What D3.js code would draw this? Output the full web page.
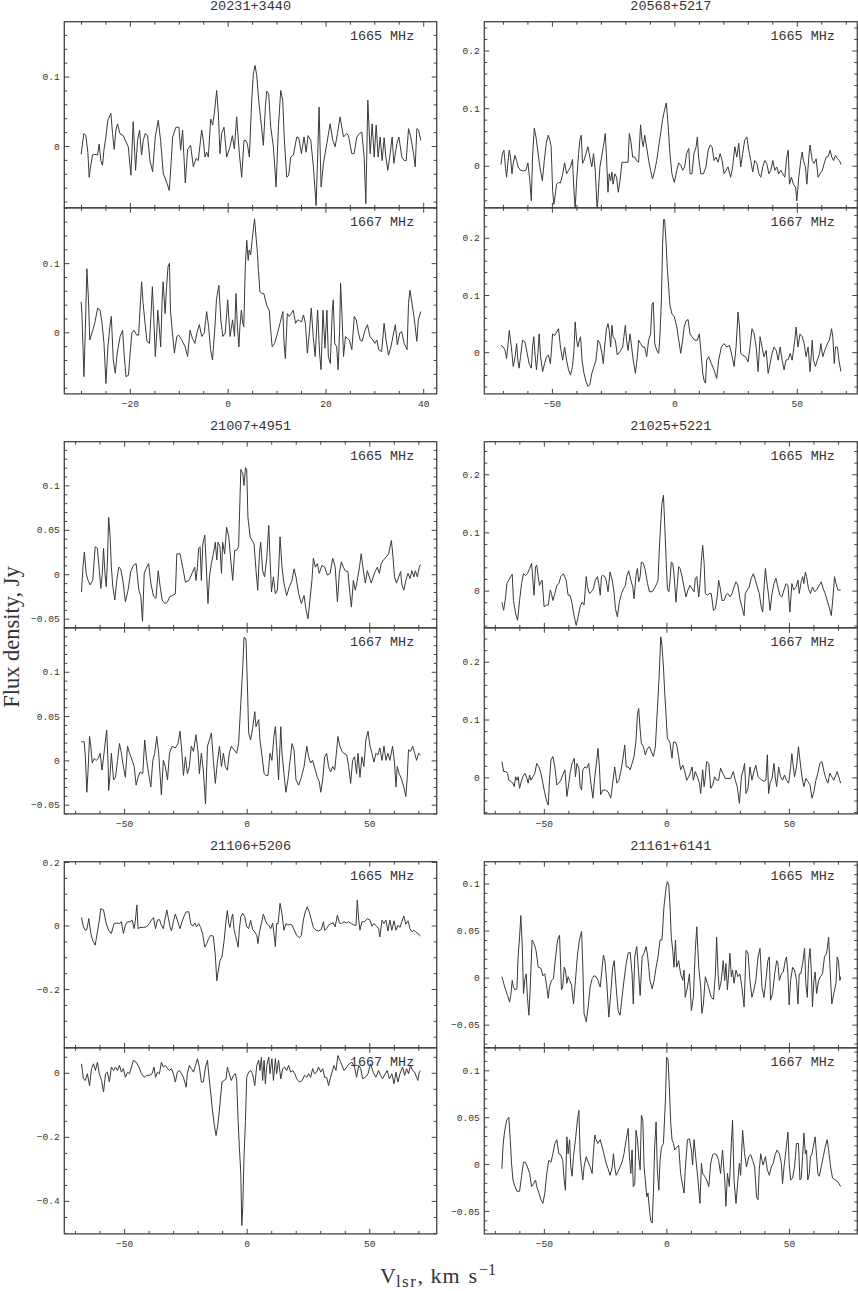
<!DOCTYPE html>
<meta charset="utf-8">
<script src="https://d3js.org/d3.v7.min.js"></script>
<style>
  body { margin: 0; background: #fff; }
  .lbl { font-family: "Liberation Mono", "DejaVu Sans Mono", monospace; fill: #333; }
  .big { font-family: "Liberation Serif", "DejaVu Serif", serif; fill: #333; }
</style>
<svg id="chart" width="858" height="1291"></svg>
<script>
// sources, one pair of spectra per source
const sources = ["20231+3440", "20568+5217", "21007+4951", "21025+5221", "21106+5206", "21161+6141"];
const lines = ["1665 MHz", "1667 MHz"];

// spectra: [Vlsr km/s, flux Jy]
const s20231_1665 = [[-29.97,-0.012],[-29.42,0.018],[-29.01,0.015],[-28.6,-0.009],[-28.33,-0.045],[-28.05,-0.03],[-27.65,-0.013],[-27.17,-0.012],[-26.62,-0.013],[-26.28,0.003],[-25.94,-0.021],[-25.6,-0.028],[-25.32,-0.006],[-24.91,0.013],[-24.51,0.037],[-23.89,0.047],[-23.55,0.018],[-23.21,-0.005],[-22.87,0.023],[-22.53,0.032],[-22.05,0.018],[-21.37,0.015],[-20.34,-0.001],[-19.8,-0.042],[-19.32,0.035],[-18.84,-0.035],[-18.43,0.008],[-18.02,0.023],[-17.61,-0.013],[-17.27,0.008],[-16.86,0.018],[-16.38,0.015],[-15.9,-0.021],[-15.36,-0.037],[-14.81,0.013],[-14.2,0.037],[-13.72,0.008],[-13.17,-0.04],[-12.49,-0.052],[-11.95,-0.064],[-11.54,-0.021],[-11.26,0.013],[-10.58,0.027],[-9.97,0.027],[-9.62,-0.006],[-9.22,0.023],[-8.67,-0.053],[-8.19,-0.005],[-7.58,0.001],[-7.03,-0.03],[-6.48,-0.018],[-6.01,-0.021],[-5.32,0.023],[-4.98,0.008],[-4.64,-0.016],[-4.3,-0.009],[-3.96,-0.016],[-3.48,0.039],[-3.07,0.03],[-2.73,0.047],[-2.25,0.08],[-1.91,0.047],[-1.57,-0.011],[-1.23,0.018],[-0.75,0.027],[-0.2,-0.016],[0.48,-0.001],[0.96,0.015],[1.37,-0.004],[1.84,0.042],[2.39,-0.011],[2.87,-0.045],[3.34,0.008],[3.69,0.008],[4.03,0.003],[4.44,-0.016],[4.91,0.066],[5.26,0.104],[5.6,0.116],[5.94,0.102],[6.35,0.066],[6.76,0.039],[7.3,0.001],[7.71,0.056],[7.99,0.079],[8.4,0.075],[8.81,0.027],[9.35,-0.001],[9.9,-0.059],[10.38,0.027],[10.85,0.08],[11.26,0.066],[11.6,0.008],[12.08,-0.045],[12.49,-0.042],[12.9,-0.016],[13.45,-0.013],[14.13,0.013],[14.54,0.012],[15.09,-0.011],[15.63,0.013],[16.04,-0.009],[16.45,0.015],[17.0,0.008],[17.54,-0.03],[18.09,-0.086],[18.36,-0.025],[18.7,0.056],[19.11,-0.059],[19.59,-0.025],[20.27,0.003],[20.96,0.032],[21.5,0.008],[21.98,-0.001],[22.46,0.018],[23.0,0.042],[23.69,0.013],[24.37,0.018],[24.71,0.015],[25.39,-0.011],[25.87,-0.011],[26.42,0.013],[26.96,0.018],[27.44,0.02],[27.92,-0.016],[28.26,-0.083],[28.67,0.066],[29.15,-0.011],[29.56,0.032],[29.97,-0.016],[30.38,0.03],[30.78,-0.016],[31.19,0.013],[31.6,-0.021],[32.01,0.012],[32.35,-0.016],[32.76,-0.035],[33.24,-0.011],[33.65,0.013],[33.99,-0.025],[34.61,0.003],[35.02,0.013],[35.63,-0.016],[36.11,-0.021],[36.52,-0.021],[37.0,0.025],[37.47,0.013],[38.02,-0.011],[38.36,-0.03],[38.7,0.025],[39.04,0.023],[39.52,0.008]];

const s20231_1667 = [[-29.97,0.044],[-29.8,0.023],[-29.6,-0.021],[-29.4,-0.064],[-29.2,-0.016],[-29.0,0.037],[-28.8,0.092],[-28.5,0.051],[-28.2,-0.011],[-27.6,0.003],[-27.2,0.013],[-26.6,0.035],[-26.1,0.032],[-25.7,0.013],[-25.3,-0.016],[-24.9,-0.074],[-24.5,-0.021],[-24.1,0.008],[-23.8,0.023],[-23.4,-0.04],[-23.0,-0.059],[-22.6,-0.03],[-22.0,-0.006],[-21.5,0.003],[-21.2,-0.03],[-20.8,-0.064],[-20.3,-0.062],[-20.0,-0.035],[-19.6,-0.001],[-19.2,0.003],[-18.6,-0.004],[-18.2,-0.004],[-17.9,0.037],[-17.6,0.073],[-17.3,0.042],[-16.9,0.013],[-16.5,-0.013],[-16.0,-0.016],[-15.7,0.023],[-15.4,0.066],[-15.1,0.018],[-14.8,-0.035],[-14.5,-0.001],[-14.3,0.032],[-14.0,0.008],[-13.7,-0.021],[-13.4,0.047],[-13.2,0.073],[-12.8,0.027],[-12.5,0.066],[-12.2,0.095],[-11.9,0.1],[-11.7,0.032],[-11.3,-0.001],[-10.9,-0.03],[-10.4,-0.006],[-10.0,-0.004],[-9.4,-0.011],[-8.7,-0.021],[-8.2,-0.035],[-7.7,0.003],[-7.2,-0.009],[-6.7,-0.016],[-6.3,-0.001],[-5.8,0.011],[-5.3,-0.006],[-4.8,-0.001],[-4.3,0.03],[-3.9,0.008],[-3.5,-0.025],[-3.1,-0.04],[-2.6,0.008],[-2.3,0.047],[-1.8,0.068],[-1.4,0.018],[-1.0,-0.006],[-0.5,-0.001],[-0.2,0.027],[0.0,0.047],[0.5,-0.006],[1.0,0.018],[1.4,-0.006],[1.7,0.056],[2.0,0.008],[2.3,-0.021],[2.5,0.008],[2.8,0.032],[3.1,0.013],[3.3,0.008],[3.6,0.095],[3.9,0.133],[4.2,0.104],[4.4,0.119],[4.7,0.112],[5.0,0.133],[5.3,0.152],[5.5,0.164],[5.8,0.138],[6.1,0.114],[6.3,0.088],[6.6,0.059],[7.0,0.056],[7.4,0.056],[7.7,0.047],[8.1,0.037],[8.5,0.032],[8.8,0.003],[9.1,-0.021],[9.6,-0.016],[10.2,-0.001],[10.7,0.013],[11.3,0.03],[11.5,-0.011],[11.8,-0.038],[12.2,0.027],[12.6,0.023],[13.0,0.027],[13.4,0.032],[13.9,0.013],[14.3,0.018],[14.7,0.017],[15.1,0.015],[15.5,0.025],[15.9,0.013],[16.3,-0.03],[16.7,-0.001],[17.1,0.035],[17.5,-0.006],[17.9,-0.035],[18.4,0.032],[18.8,-0.03],[19.1,-0.054],[19.5,0.032],[19.9,-0.023],[20.3,0.032],[20.6,-0.035],[21.0,-0.045],[21.4,0.032],[21.6,0.047],[21.9,-0.016],[22.3,-0.021],[22.6,-0.054],[22.9,0.003],[23.1,0.071],[23.4,0.023],[23.7,-0.035],[24.1,-0.006],[24.5,-0.009],[24.9,-0.011],[25.4,-0.025],[25.9,0.023],[26.3,0.018],[26.7,0.001],[27.1,-0.011],[27.5,-0.013],[28.1,0.003],[28.6,0.011],[29.1,-0.006],[29.7,-0.011],[30.1,-0.016],[30.5,-0.011],[30.9,-0.025],[31.5,-0.028],[32.0,0.013],[32.4,-0.011],[32.9,-0.033],[33.4,-0.021],[33.8,-0.006],[34.3,0.011],[34.7,-0.018],[35.2,-0.001],[35.6,0.001],[36.1,-0.016],[36.7,-0.025],[37.0,0.042],[37.3,0.061],[37.7,0.042],[38.2,0.018],[38.7,-0.013],[39.0,0.018],[39.5,0.03]];

const s20568_1665 = [[-70.8,0.002],[-70.2,0.021],[-69.6,0.027],[-68.9,-0.005],[-68.5,-0.02],[-68.0,0.004],[-67.4,0.027],[-66.9,0.015],[-66.3,-0.014],[-65.8,0.004],[-65.1,0.018],[-64.4,0.009],[-63.8,-0.002],[-62.8,-0.008],[-61.7,-0.009],[-60.6,-0.008],[-59.8,0.005],[-59.0,-0.026],[-58.4,-0.061],[-57.9,0.015],[-57.2,0.065],[-56.5,0.05],[-56.0,0.033],[-54.9,-0.002],[-53.9,-0.026],[-53.1,0.009],[-52.3,0.039],[-51.5,0.053],[-50.8,0.044],[-50.3,0.033],[-49.7,-0.043],[-49.2,-0.067],[-48.6,-0.049],[-48.1,-0.032],[-47.3,-0.029],[-46.5,-0.03],[-45.6,-0.014],[-44.8,0.005],[-44.0,-0.014],[-43.2,-0.008],[-42.4,-0.002],[-41.6,0.011],[-41.0,-0.043],[-40.5,-0.075],[-39.9,-0.026],[-39.1,0.021],[-38.6,0.044],[-38.0,0.053],[-37.5,0.004],[-36.9,0.009],[-36.1,0.021],[-35.3,0.033],[-34.5,0.015],[-33.7,-0.002],[-33.0,0.021],[-32.3,-0.008],[-31.5,-0.078],[-30.9,-0.037],[-30.4,-0.002],[-29.7,0.015],[-29.0,0.033],[-28.2,0.056],[-27.7,0.015],[-27.1,-0.046],[-26.6,-0.014],[-26.0,-0.026],[-25.5,-0.011],[-25.0,-0.032],[-24.3,-0.014],[-23.6,-0.02],[-22.9,-0.046],[-22.2,-0.026],[-21.4,0.006],[-20.2,0.006],[-18.9,0.006],[-18.4,0.056],[-17.8,0.044],[-17.0,0.015],[-16.2,0.015],[-15.4,0.009],[-14.6,0.006],[-13.8,0.071],[-13.2,0.044],[-12.7,0.033],[-12.1,0.053],[-11.6,0.039],[-11.0,0.024],[-10.5,0.009],[-9.7,-0.008],[-8.9,-0.023],[-8.0,-0.008],[-7.2,0.009],[-6.4,0.033],[-5.6,0.056],[-4.8,0.08],[-4.0,0.097],[-3.3,0.109],[-2.6,0.074],[-1.8,0.021],[-1.0,-0.014],[0.0,-0.029],[1.0,-0.008],[1.8,0.005],[2.6,0.001],[3.4,-0.008],[4.2,-0.002],[5.0,0.021],[5.9,0.03],[6.4,-0.014],[7.2,-0.014],[8.0,0.021],[8.9,0.033],[9.4,0.05],[9.9,0.015],[10.8,-0.014],[11.9,-0.014],[12.9,-0.002],[13.8,0.027],[14.6,0.036],[15.4,0.033],[16.2,0.009],[17.0,0.015],[17.8,0.006],[18.7,0.021],[19.5,0.009],[20.3,-0.014],[21.1,-0.008],[21.9,-0.002],[23.0,-0.02],[23.8,-0.002],[24.7,0.033],[25.5,0.015],[26.3,0.039],[27.1,-0.002],[27.9,0.021],[28.7,0.044],[29.6,0.05],[30.4,0.027],[31.2,0.009],[32.0,-0.011],[32.8,0.009],[33.7,0.004],[34.5,-0.014],[35.3,-0.02],[36.1,-0.002],[36.9,0.009],[37.7,0.004],[38.6,-0.014],[39.4,-0.008],[40.2,0.009],[41.0,-0.008],[41.8,-0.002],[42.6,-0.014],[43.5,-0.008],[44.3,-0.014],[45.1,-0.02],[45.9,0.015],[46.5,0.027],[47.0,-0.032],[47.8,-0.02],[48.6,-0.032],[49.5,-0.037],[50.0,-0.061],[50.8,-0.02],[51.6,0.009],[52.2,0.024],[52.7,0.009],[53.5,-0.002],[54.1,-0.032],[54.9,0.015],[55.4,0.036],[56.3,0.009],[57.1,0.004],[57.9,0.012],[58.7,-0.02],[59.5,-0.014],[60.4,-0.008],[61.2,0.004],[62.0,0.015],[62.8,0.016],[63.6,0.027],[64.3,0.015],[65.0,0.009],[65.8,0.018],[66.6,0.012],[67.4,0.009],[68.1,0.002]];

const s20568_1667 = [[-70.8,0.012],[-69.9,0.009],[-69.1,0.003],[-68.5,-0.011],[-68.0,0.009],[-67.4,0.038],[-66.9,0.021],[-66.3,-0.002],[-65.8,-0.025],[-65.0,-0.008],[-64.4,0.015],[-63.9,-0.014],[-63.4,-0.028],[-62.8,-0.008],[-62.0,0.021],[-61.0,0.018],[-60.1,-0.002],[-59.3,-0.02],[-58.4,-0.028],[-57.9,0.009],[-57.4,0.027],[-56.8,-0.008],[-56.3,-0.031],[-55.7,-0.002],[-55.2,0.032],[-54.6,-0.008],[-53.8,-0.034],[-53.0,-0.02],[-52.2,-0.008],[-51.4,-0.005],[-50.6,-0.02],[-49.7,0.032],[-48.9,0.029],[-48.1,0.035],[-47.3,0.041],[-46.5,0.009],[-45.6,-0.014],[-44.8,0.009],[-44.0,-0.014],[-43.2,-0.031],[-42.4,-0.04],[-41.6,-0.025],[-41.0,0.003],[-40.5,0.053],[-39.9,0.021],[-39.4,0.009],[-38.8,0.021],[-38.3,0.027],[-37.7,-0.014],[-36.9,-0.037],[-36.1,-0.051],[-35.3,-0.06],[-34.5,-0.057],[-33.7,-0.037],[-32.8,-0.025],[-32.0,-0.014],[-31.2,0.021],[-30.4,0.015],[-29.6,-0.002],[-29.0,-0.02],[-28.5,0.009],[-27.7,0.041],[-27.1,0.05],[-26.6,0.038],[-26.0,0.009],[-25.5,0.047],[-25.0,0.027],[-24.1,0.021],[-23.3,-0.005],[-22.2,0.001],[-21.1,0.009],[-20.6,0.027],[-20.0,0.047],[-19.5,0.021],[-18.9,0.003],[-18.1,0.032],[-17.6,0.015],[-16.8,-0.014],[-15.9,-0.037],[-15.1,-0.008],[-14.6,0.021],[-13.8,0.015],[-12.9,0.009],[-12.1,0.009],[-11.3,-0.008],[-10.5,0.021],[-9.7,0.032],[-9.1,0.084],[-8.6,0.087],[-8.0,0.015],[-7.2,0.003],[-6.4,-0.002],[-5.9,0.027],[-5.3,0.09],[-4.8,0.188],[-4.4,0.232],[-4.0,0.232],[-3.4,0.194],[-2.9,0.148],[-2.3,0.113],[-1.8,0.082],[-1.0,0.067],[0.0,0.062],[1.0,0.044],[1.8,0.021],[2.6,-0.002],[3.4,0.021],[4.0,0.044],[4.8,0.055],[5.6,0.057],[6.4,0.032],[7.2,0.027],[8.3,0.021],[9.4,0.021],[10.2,0.032],[10.8,0.003],[11.6,-0.037],[12.1,-0.049],[12.7,-0.054],[13.2,-0.014],[14.0,-0.008],[15.1,-0.02],[16.2,-0.031],[17.3,-0.046],[18.1,-0.014],[19.2,0.009],[20.3,0.015],[21.4,0.009],[22.5,0.012],[23.6,-0.008],[24.4,-0.025],[25.2,0.009],[26.0,0.07],[26.6,0.044],[27.1,-0.002],[27.9,-0.005],[29.0,-0.008],[30.1,-0.017],[30.9,0.009],[31.7,0.041],[32.6,0.032],[33.4,0.009],[34.2,-0.034],[35.0,0.027],[35.8,0.009],[36.6,-0.008],[37.5,0.003],[38.3,-0.037],[39.1,-0.02],[39.9,-0.002],[40.7,0.009],[41.6,0.003],[42.4,-0.014],[43.2,0.009],[44.0,-0.014],[44.8,-0.031],[45.6,-0.014],[46.5,-0.013],[47.3,-0.002],[48.1,-0.014],[49.2,0.021],[49.7,0.044],[50.5,0.009],[51.3,0.032],[52.2,0.027],[53.0,0.015],[53.8,-0.008],[54.6,0.009],[55.4,-0.034],[56.3,0.021],[56.8,-0.014],[57.6,-0.025],[58.4,-0.014],[59.3,-0.002],[59.8,0.015],[60.6,-0.008],[61.4,0.003],[62.5,0.015],[63.3,0.021],[64.2,0.041],[64.7,0.027],[65.3,-0.02],[65.8,0.009],[66.6,0.009],[67.2,-0.014],[68.0,-0.034]];

const s21007_1665 = [[-67.4,-0.02],[-66.8,0.008],[-66.2,0.025],[-65.5,0.001],[-64.7,-0.007],[-63.9,-0.012],[-62.8,-0.007],[-61.8,0.031],[-60.9,0.029],[-60.1,0.004],[-59.5,-0.016],[-58.9,0.001],[-58.4,0.029],[-57.8,0.001],[-57.3,-0.014],[-56.8,0.016],[-56.3,0.064],[-55.7,0.042],[-55.2,0.008],[-54.6,-0.014],[-53.8,-0.029],[-53.0,-0.007],[-52.2,0.008],[-51.4,0.006],[-50.5,-0.007],[-49.5,-0.031],[-48.4,-0.018],[-47.3,0.003],[-46.2,0.01],[-45.1,0.012],[-44.0,-0.018],[-43.2,-0.025],[-42.5,-0.053],[-41.8,0.001],[-40.8,0.008],[-40.0,0.012],[-39.1,-0.01],[-38.0,-0.025],[-37.0,-0.027],[-36.1,0.004],[-35.3,-0.014],[-34.5,-0.029],[-33.4,-0.033],[-32.3,-0.031],[-31.3,-0.025],[-30.2,-0.024],[-29.1,-0.022],[-28.5,0.023],[-27.2,0.023],[-26.1,0.008],[-25.0,-0.009],[-23.6,-0.007],[-22.3,0.001],[-21.2,0.008],[-20.7,-0.007],[-20.1,0.008],[-19.6,0.029],[-19.0,0.031],[-18.5,-0.007],[-17.9,0.034],[-17.1,0.044],[-16.6,0.016],[-15.8,-0.033],[-15.2,-0.003],[-14.4,0.012],[-13.6,0.023],[-12.8,0.036],[-12.2,0.016],[-11.7,0.036],[-10.9,0.031],[-10.3,0.001],[-9.8,0.036],[-9.0,0.023],[-8.2,0.053],[-7.3,0.042],[-6.5,0.016],[-5.7,-0.007],[-4.9,0.027],[-4.1,0.027],[-3.3,0.031],[-2.4,0.118],[-1.6,0.113],[-1.1,0.1],[-0.5,0.12],[0.0,0.118],[0.5,0.064],[1.4,0.042],[2.2,0.038],[3.0,0.034],[3.8,0.004],[4.5,-0.018],[5.2,0.023],[5.7,0.036],[6.5,0.004],[7.3,-0.003],[8.2,0.019],[9.0,0.055],[9.5,0.019],[10.1,-0.02],[10.9,-0.003],[11.7,-0.022],[12.5,-0.018],[13.0,0.004],[13.6,0.042],[14.4,0.008],[15.2,-0.01],[16.3,-0.024],[17.4,-0.014],[18.5,-0.007],[19.3,0.006],[20.1,-0.003],[21.2,-0.022],[22.3,-0.033],[23.4,-0.024],[24.2,-0.04],[25.0,-0.05],[25.8,-0.029],[26.6,-0.007],[27.2,0.018],[28.0,0.008],[28.8,0.012],[29.6,0.001],[30.7,0.01],[31.8,0.008],[32.9,-0.001],[34.0,0.001],[35.1,0.018],[36.1,0.008],[37.0,-0.031],[37.8,0.001],[38.6,0.014],[39.4,0.008],[40.2,0.004],[41.3,0.003],[42.1,-0.022],[42.7,-0.037],[43.5,-0.007],[44.3,-0.018],[45.1,-0.007],[46.0,0.008],[46.7,0.023],[47.6,0.004],[48.4,-0.01],[49.2,0.004],[50.0,-0.003],[50.8,-0.01],[51.6,-0.003],[52.4,0.003],[53.3,0.008],[54.1,0.001],[54.9,0.012],[55.7,0.016],[56.8,0.019],[57.9,0.023],[59.0,0.038],[59.5,0.025],[60.3,-0.003],[61.1,-0.01],[62.0,-0.003],[62.8,0.003],[63.3,-0.012],[64.1,-0.018],[64.9,-0.007],[65.8,0.001],[66.6,-0.005],[67.4,0.004],[68.2,-0.003],[68.8,0.004],[69.6,-0.003],[70.4,0.008],[70.9,0.011]];

const s21007_1667 = [[-67.4,0.021],[-66.3,0.021],[-65.8,0.004],[-65.2,-0.036],[-64.7,-0.011],[-64.1,0.027],[-63.6,0.016],[-63.0,-0.003],[-62.2,0.002],[-61.4,0.0],[-60.6,0.002],[-59.8,0.008],[-59.0,-0.011],[-58.2,0.008],[-57.6,0.023],[-57.1,0.034],[-56.5,-0.007],[-56.3,-0.034],[-55.7,-0.015],[-55.2,0.008],[-54.3,-0.022],[-53.5,-0.019],[-52.7,0.0],[-51.9,0.019],[-51.1,0.008],[-50.3,-0.007],[-49.5,-0.019],[-48.6,0.016],[-47.8,0.008],[-46.7,0.0],[-45.9,-0.007],[-45.1,-0.028],[-44.3,-0.019],[-43.5,-0.013],[-42.4,-0.015],[-41.6,0.023],[-40.8,0.0],[-40.0,-0.015],[-39.1,-0.03],[-38.3,0.0],[-37.5,0.008],[-36.7,0.027],[-35.9,0.008],[-34.8,-0.039],[-34.0,0.0],[-33.2,-0.007],[-32.3,-0.022],[-31.5,0.008],[-30.4,0.016],[-29.1,0.014],[-28.0,0.019],[-27.2,0.033],[-26.4,0.008],[-25.8,-0.017],[-25.0,0.004],[-24.2,-0.015],[-23.4,-0.007],[-22.6,0.016],[-21.7,0.01],[-20.7,0.029],[-19.8,0.008],[-19.3,-0.015],[-18.5,0.008],[-17.7,-0.011],[-16.8,-0.049],[-16.0,0.016],[-15.2,0.023],[-14.4,0.031],[-13.6,0.0],[-12.8,-0.026],[-12.0,-0.003],[-11.1,0.016],[-10.3,-0.007],[-9.5,0.008],[-8.7,-0.007],[-7.9,-0.011],[-7.1,0.008],[-6.3,0.016],[-5.2,0.012],[-4.1,0.008],[-3.3,0.019],[-2.4,0.065],[-1.6,0.106],[-1.1,0.139],[-0.3,0.137],[0.3,0.084],[0.8,0.031],[1.6,0.023],[2.4,0.036],[3.3,0.055],[3.8,0.038],[4.3,0.042],[4.9,0.046],[5.4,0.023],[6.3,0.004],[7.1,-0.015],[7.9,-0.017],[8.7,-0.017],[9.5,0.008],[10.3,0.0],[11.1,0.027],[11.7,0.038],[12.2,0.016],[13.0,-0.022],[13.9,0.038],[14.4,0.008],[15.2,-0.015],[16.0,-0.036],[16.8,-0.022],[17.7,0.0],[18.5,0.019],[19.3,0.012],[20.1,-0.022],[21.2,-0.028],[22.3,-0.019],[23.4,-0.007],[24.5,0.016],[25.3,0.004],[26.1,-0.003],[26.9,0.0],[28.0,-0.011],[28.8,-0.019],[29.6,-0.024],[30.2,-0.036],[31.0,-0.022],[31.8,0.004],[32.6,0.008],[33.4,-0.007],[34.2,-0.013],[35.1,-0.007],[35.9,-0.011],[36.7,0.012],[37.2,0.027],[38.0,0.016],[38.9,0.01],[39.7,0.008],[40.8,0.006],[41.6,-0.007],[42.4,-0.026],[43.2,0.0],[44.0,0.004],[44.8,-0.015],[45.4,0.008],[46.2,-0.019],[47.0,0.004],[47.8,-0.007],[48.6,0.023],[49.5,0.033],[50.3,0.016],[51.1,0.008],[51.9,-0.002],[52.7,0.008],[53.5,0.006],[54.3,0.014],[55.2,0.0],[56.0,0.016],[56.8,0.0],[57.6,0.008],[58.4,0.0],[59.5,0.016],[60.3,-0.003],[60.9,-0.03],[61.4,-0.007],[62.2,-0.015],[63.0,-0.02],[64.1,-0.03],[64.9,-0.041],[65.5,-0.019],[66.0,0.012],[66.8,0.01],[67.7,0.016],[68.5,0.008],[69.3,0.0],[70.1,0.008],[70.9,0.006]];

const s21025_1665 = [[-67.1,-0.02],[-66.4,-0.034],[-65.6,-0.011],[-65.1,0.012],[-64.3,0.018],[-63.5,0.024],[-62.9,0.028],[-62.4,-0.017],[-61.5,-0.04],[-60.7,-0.051],[-59.9,-0.017],[-59.1,0.012],[-58.3,0.029],[-57.5,0.026],[-56.7,0.029],[-55.8,0.038],[-55.0,0.047],[-54.5,0.018],[-54.0,-0.008],[-53.4,0.041],[-52.9,0.044],[-52.3,0.024],[-51.8,0.009],[-51.2,0.015],[-50.7,0.018],[-49.9,-0.028],[-49.0,-0.025],[-48.2,-0.025],[-47.4,0.001],[-46.9,-0.005],[-46.3,-0.017],[-45.5,-0.005],[-44.7,0.009],[-43.9,0.012],[-43.1,0.024],[-42.0,0.029],[-40.9,0.018],[-40.1,-0.008],[-39.3,-0.008],[-38.5,-0.022],[-37.6,-0.045],[-36.8,-0.06],[-36.0,-0.045],[-35.2,-0.028],[-34.4,-0.02],[-33.6,-0.025],[-32.7,0.024],[-32.2,0.006],[-31.4,-0.005],[-30.6,-0.002],[-29.8,0.003],[-29.0,0.018],[-28.1,0.024],[-27.6,0.012],[-27.0,-0.008],[-26.5,0.024],[-26.0,0.026],[-25.1,0.024],[-24.6,0.018],[-23.8,-0.002],[-23.0,0.032],[-22.1,0.018],[-21.3,-0.005],[-20.8,-0.031],[-20.0,-0.045],[-19.2,-0.02],[-18.3,-0.005],[-17.5,0.003],[-16.7,0.009],[-16.2,0.024],[-15.4,0.034],[-14.5,0.018],[-13.7,0.006],[-13.2,-0.014],[-12.4,0.026],[-11.8,0.038],[-11.3,0.015],[-10.7,0.024],[-10.2,0.049],[-9.4,0.047],[-8.6,0.035],[-7.7,0.012],[-6.9,-0.002],[-5.8,-0.002],[-5.0,0.003],[-3.9,0.012],[-3.4,0.018],[-2.9,0.07],[-2.3,0.116],[-1.8,0.15],[-1.2,0.164],[-0.7,0.116],[-0.1,0.052],[0.4,0.003],[1.0,-0.002],[1.5,0.018],[2.0,0.049],[2.6,0.047],[3.1,0.029],[3.9,-0.02],[4.5,0.012],[5.0,0.041],[5.6,0.038],[6.4,0.024],[7.2,0.006],[8.0,-0.011],[8.8,0.001],[9.6,0.009],[10.5,0.003],[11.3,-0.002],[11.8,0.021],[12.4,0.024],[13.2,-0.011],[13.7,0.012],[14.3,0.052],[14.8,0.078],[15.4,0.047],[15.9,-0.005],[16.7,-0.008],[17.5,-0.005],[18.3,-0.005],[19.2,-0.034],[20.0,-0.031],[20.8,-0.008],[21.3,0.018],[21.9,0.006],[22.7,-0.017],[23.5,-0.017],[24.3,-0.008],[25.1,-0.005],[26.0,-0.011],[26.8,-0.005],[27.6,0.006],[28.4,0.015],[29.2,0.009],[30.0,-0.014],[30.8,-0.028],[31.7,-0.043],[32.2,-0.005],[33.0,0.001],[33.8,0.006],[34.6,0.021],[35.5,0.029],[36.3,0.018],[37.1,0.006],[37.9,-0.005],[38.7,-0.028],[39.3,-0.037],[39.8,0.001],[40.4,0.038],[40.9,0.018],[41.7,-0.008],[42.3,-0.034],[43.1,-0.005],[43.9,0.012],[44.7,0.021],[45.5,0.006],[46.3,-0.008],[47.1,-0.011],[48.0,0.001],[48.8,0.012],[49.6,0.009],[50.4,-0.037],[51.2,0.012],[52.0,0.001],[52.9,0.006],[53.7,0.018],[54.2,-0.005],[55.0,0.015],[55.6,0.024],[56.1,0.012],[56.7,0.032],[57.2,0.024],[58.0,0.003],[58.8,-0.005],[59.6,0.006],[60.5,-0.002],[61.3,0.001],[62.4,0.009],[63.2,0.015],[64.0,0.003],[64.8,-0.005],[65.6,-0.017],[66.4,-0.028],[67.3,-0.043],[68.1,-0.005],[68.6,0.024],[69.2,0.012],[70.0,0.001],[71.1,0.001]];

const s21025_1667 = [[-67.1,0.027],[-66.4,0.01],[-65.6,0.01],[-64.8,0.007],[-64.3,-0.005],[-63.5,-0.007],[-62.6,-0.01],[-62.1,-0.016],[-61.5,0.001],[-61.0,-0.005],[-60.5,0.001],[-59.9,-0.019],[-59.4,-0.01],[-58.6,0.001],[-57.7,0.007],[-56.9,-0.002],[-56.4,-0.01],[-55.8,0.004],[-55.3,-0.005],[-54.5,0.001],[-53.7,0.007],[-52.9,0.024],[-52.0,0.018],[-51.2,0.007],[-50.4,-0.01],[-49.6,-0.028],[-48.8,-0.042],[-48.2,-0.048],[-47.7,-0.005],[-47.1,0.03],[-46.3,0.036],[-45.5,0.018],[-44.7,-0.013],[-43.9,-0.01],[-43.1,-0.005],[-42.3,0.004],[-41.4,0.013],[-40.6,-0.033],[-39.8,-0.01],[-39.3,0.007],[-38.5,0.024],[-37.6,0.033],[-37.1,0.001],[-36.5,0.024],[-35.7,0.016],[-35.2,-0.016],[-34.6,-0.022],[-34.1,0.013],[-33.3,0.018],[-32.5,0.016],[-31.7,0.024],[-30.8,-0.01],[-30.0,-0.036],[-29.2,0.001],[-28.4,0.03],[-27.9,0.05],[-27.3,0.016],[-26.8,-0.03],[-26.0,-0.022],[-24.9,-0.022],[-23.8,-0.025],[-22.7,-0.036],[-21.9,-0.01],[-21.1,0.018],[-20.2,-0.01],[-19.4,-0.005],[-18.6,0.01],[-17.8,0.03],[-17.0,0.056],[-16.4,0.018],[-15.6,0.018],[-14.8,0.013],[-14.0,0.024],[-13.2,0.036],[-12.4,0.064],[-11.8,0.11],[-11.3,0.119],[-10.7,0.082],[-10.2,0.059],[-9.4,0.053],[-8.6,0.039],[-7.7,0.05],[-6.9,0.053],[-6.1,0.044],[-5.3,0.036],[-4.5,0.053],[-3.7,0.116],[-2.9,0.179],[-2.3,0.243],[-1.8,0.228],[-1.2,0.191],[-0.7,0.148],[-0.1,0.105],[0.4,0.067],[1.0,0.064],[1.5,0.059],[2.3,0.033],[2.9,0.061],[3.7,0.061],[4.2,0.056],[5.0,0.036],[5.8,0.013],[6.7,0.021],[7.5,0.01],[8.3,-0.005],[9.1,0.001],[9.9,0.01],[10.5,0.018],[11.0,-0.005],[11.8,0.01],[12.6,0.001],[13.5,-0.01],[14.0,-0.028],[14.8,0.013],[15.4,-0.016],[15.9,0.001],[16.4,0.027],[17.3,0.024],[18.1,-0.019],[18.9,-0.013],[19.7,0.001],[20.5,-0.005],[21.3,-0.005],[22.1,0.016],[23.0,0.007],[24.0,-0.002],[25.1,-0.002],[26.2,-0.002],[27.3,0.01],[28.1,-0.005],[28.9,-0.016],[29.8,-0.045],[30.6,0.001],[31.4,0.013],[31.9,0.024],[32.5,-0.028],[33.3,-0.019],[34.1,0.018],[34.9,-0.005],[35.7,0.01],[36.5,0.021],[37.4,0.001],[38.2,-0.002],[39.0,-0.005],[39.8,-0.007],[40.6,-0.005],[41.2,0.039],[41.7,-0.028],[42.3,-0.01],[43.1,-0.002],[43.9,0.024],[44.4,0.001],[45.0,-0.016],[45.8,0.018],[46.6,0.001],[47.4,-0.005],[48.2,0.004],[49.0,-0.005],[49.9,-0.01],[50.7,0.018],[51.2,0.041],[51.8,0.018],[52.3,0.001],[53.1,0.018],[53.9,0.053],[54.5,0.03],[55.3,0.001],[56.1,-0.016],[56.9,-0.002],[57.7,-0.007],[58.6,-0.013],[59.4,-0.036],[60.2,-0.025],[61.0,-0.005],[61.8,0.007],[62.6,0.024],[63.5,0.027],[64.3,0.01],[65.1,-0.002],[65.9,-0.01],[66.7,0.007],[67.5,0.001],[68.3,-0.005],[69.7,0.01],[71.1,-0.01]];

const s21106_1665 = [[-67.4,0.025],[-66.6,-0.004],[-65.9,-0.015],[-65.2,-0.013],[-64.4,0.022],[-63.6,-0.025],[-62.8,-0.047],[-61.8,-0.062],[-60.9,-0.02],[-60.1,0.017],[-59.5,0.053],[-58.4,0.049],[-57.3,0.006],[-56.3,-0.015],[-55.2,-0.025],[-54.1,0.006],[-53.0,0.008],[-51.9,0.006],[-51.1,0.012],[-50.3,-0.025],[-49.5,0.001],[-48.6,0.012],[-47.6,0.012],[-46.7,0.017],[-45.9,-0.01],[-45.4,0.017],[-44.8,0.065],[-44.3,-0.01],[-43.5,-0.006],[-42.1,-0.006],[-40.8,-0.004],[-39.7,0.006],[-38.9,0.017],[-38.0,0.025],[-37.2,-0.01],[-36.4,0.017],[-35.6,0.019],[-34.8,0.001],[-34.0,-0.01],[-33.4,0.017],[-32.6,0.049],[-31.8,0.017],[-31.3,-0.004],[-30.7,-0.017],[-29.9,0.012],[-29.1,0.036],[-28.3,0.017],[-27.2,-0.01],[-26.4,0.012],[-25.5,0.03],[-24.7,0.043],[-23.6,0.043],[-22.8,0.006],[-22.0,-0.002],[-21.2,0.008],[-20.4,-0.004],[-19.6,0.006],[-18.8,-0.006],[-18.0,-0.025],[-17.1,-0.068],[-16.3,-0.057],[-15.5,-0.041],[-14.7,-0.031],[-13.6,-0.034],[-12.8,-0.094],[-12.2,-0.174],[-11.7,-0.147],[-10.9,-0.11],[-10.1,-0.099],[-9.2,-0.047],[-8.4,0.017],[-7.9,0.047],[-7.3,0.006],[-6.8,-0.006],[-6.3,0.019],[-5.7,0.036],[-5.2,-0.01],[-4.6,-0.031],[-4.1,-0.047],[-3.5,-0.068],[-3.0,-0.013],[-2.4,0.028],[-1.6,0.038],[-0.8,0.028],[0.0,-0.004],[0.8,-0.01],[1.6,0.017],[2.4,-0.013],[3.3,-0.02],[4.1,-0.031],[4.6,-0.057],[5.2,-0.02],[6.0,0.006],[6.8,0.036],[7.6,0.017],[8.2,0.006],[9.0,0.001],[9.8,-0.01],[10.6,0.008],[11.1,-0.025],[11.7,-0.066],[12.2,0.006],[12.8,0.006],[13.6,0.07],[14.4,0.036],[15.2,-0.015],[16.0,0.006],[16.8,0.001],[17.7,0.004],[18.5,0.001],[19.3,-0.013],[20.4,-0.031],[21.5,-0.038],[22.3,-0.031],[23.1,0.017],[23.9,0.043],[24.7,0.059],[25.5,0.043],[26.4,0.017],[27.2,-0.006],[28.3,-0.015],[29.3,-0.017],[30.4,-0.013],[31.3,0.012],[31.8,-0.015],[32.6,-0.01],[33.4,0.001],[34.5,0.006],[35.3,0.008],[36.1,-0.004],[37.0,0.033],[37.8,0.008],[38.6,0.006],[39.7,0.012],[40.8,0.008],[41.6,0.012],[42.7,0.006],[43.8,0.001],[44.6,0.001],[45.1,0.08],[45.7,0.017],[46.2,-0.015],[47.0,0.012],[48.1,0.012],[49.2,0.022],[50.3,0.017],[51.1,-0.002],[51.9,0.006],[53.0,-0.002],[53.8,-0.01],[54.3,-0.036],[55.2,0.017],[56.0,0.006],[56.8,0.017],[57.6,-0.017],[58.4,0.017],[59.2,-0.015],[60.1,0.015],[60.9,-0.015],[61.7,0.001],[62.5,-0.006],[63.3,0.012],[64.1,0.03],[64.9,0.004],[65.8,0.015],[66.6,-0.01],[67.4,-0.02],[68.2,-0.015],[69.0,-0.02],[69.8,-0.025],[70.9,-0.033]];

const s21106_1667 = [[-67.4,0.028],[-66.6,-0.019],[-65.8,-0.024],[-65.0,-0.003],[-64.1,-0.04],[-63.3,0.013],[-62.5,0.028],[-61.7,0.007],[-60.9,0.033],[-60.1,-0.003],[-59.2,-0.024],[-58.4,-0.06],[-57.6,-0.003],[-56.8,0.002],[-56.0,-0.029],[-55.2,0.018],[-54.3,0.007],[-53.5,0.018],[-52.7,0.007],[-51.9,0.023],[-51.1,0.002],[-50.3,0.013],[-49.5,-0.014],[-48.6,0.002],[-47.8,-0.003],[-47.0,0.018],[-46.2,0.039],[-45.1,0.033],[-44.0,0.018],[-42.9,-0.003],[-41.8,-0.014],[-40.8,-0.008],[-39.7,-0.008],[-38.6,-0.003],[-37.8,0.018],[-37.2,-0.014],[-36.4,0.002],[-35.6,-0.003],[-34.8,0.033],[-34.0,0.018],[-33.2,0.023],[-32.3,0.013],[-31.5,0.007],[-30.7,0.013],[-29.9,-0.003],[-29.1,-0.029],[-28.3,0.002],[-27.4,0.007],[-26.6,-0.003],[-25.8,-0.014],[-24.7,-0.045],[-24.2,-0.003],[-23.4,0.023],[-22.6,0.013],[-21.7,0.002],[-20.9,0.023],[-20.1,0.044],[-19.3,0.018],[-18.5,-0.029],[-17.7,-0.029],[-16.8,0.018],[-16.0,0.039],[-15.5,-0.003],[-14.9,-0.045],[-14.1,-0.107],[-13.3,-0.159],[-12.5,-0.196],[-11.7,-0.159],[-10.9,-0.097],[-10.1,-0.029],[-9.2,-0.024],[-8.4,-0.019],[-7.9,0.018],[-7.1,-0.003],[-6.3,-0.024],[-5.4,-0.008],[-4.6,-0.003],[-4.1,-0.024],[-3.5,-0.149],[-3.0,-0.232],[-2.4,-0.316],[-2.0,-0.477],[-1.6,-0.42],[-1.1,-0.264],[-0.5,-0.149],[0.0,-0.014],[0.8,0.002],[1.6,0.007],[2.4,-0.003],[3.3,-0.04],[4.1,0.023],[4.9,0.039],[5.4,0.007],[6.0,0.049],[6.5,-0.024],[7.1,0.039],[7.6,-0.034],[8.2,0.023],[9.0,0.049],[9.5,-0.003],[10.3,0.044],[10.9,-0.024],[11.7,0.044],[12.2,-0.003],[13.0,0.039],[13.9,-0.019],[14.7,0.013],[15.5,0.018],[16.3,0.007],[17.1,0.023],[17.9,0.002],[18.8,0.007],[19.6,-0.003],[20.4,-0.019],[21.5,-0.029],[22.6,-0.024],[23.6,-0.008],[24.5,-0.014],[25.3,-0.003],[26.1,-0.014],[26.9,0.013],[27.7,-0.003],[28.5,0.002],[29.3,0.018],[30.2,0.002],[31.0,0.013],[31.8,-0.014],[32.6,-0.014],[33.4,-0.04],[34.2,-0.014],[34.8,0.002],[35.6,0.023],[36.4,0.007],[37.2,0.054],[38.0,0.039],[38.9,0.023],[39.7,0.007],[40.8,0.018],[41.8,0.028],[42.9,0.033],[44.0,0.018],[44.8,-0.014],[45.7,0.023],[46.5,0.013],[47.3,-0.019],[48.4,-0.014],[49.5,-0.003],[50.5,0.028],[51.6,0.002],[52.7,-0.014],[53.8,0.007],[54.6,-0.008],[55.4,-0.019],[56.5,-0.003],[57.3,0.007],[58.2,-0.019],[59.2,-0.003],[60.1,-0.034],[60.9,0.002],[61.7,-0.029],[62.5,-0.003],[63.6,0.018],[64.4,-0.008],[65.2,0.013],[66.0,-0.003],[66.8,0.023],[67.7,0.007],[68.5,0.002],[69.3,-0.014],[69.8,-0.024],[70.4,0.002],[70.9,0.007]];

const s21161_1665 = [[-67.1,0.001],[-66.4,-0.006],[-65.6,-0.013],[-64.8,-0.019],[-64.0,-0.026],[-63.5,-0.019],[-62.9,-0.003],[-62.4,-0.01],[-61.8,-0.013],[-61.0,-0.012],[-60.5,0.022],[-59.9,0.043],[-59.4,0.066],[-58.8,0.033],[-58.3,-0.017],[-57.7,-0.001],[-57.2,0.004],[-56.7,-0.021],[-56.1,-0.04],[-55.6,-0.013],[-54.8,0.04],[-54.0,0.036],[-53.2,0.029],[-52.3,0.011],[-51.2,0.01],[-50.4,0.002],[-49.6,0.004],[-48.8,-0.01],[-48.2,-0.022],[-47.7,-0.01],[-46.9,-0.003],[-46.1,-0.001],[-45.2,0.022],[-44.4,0.04],[-43.6,0.045],[-42.8,-0.013],[-42.3,-0.01],[-41.7,0.011],[-41.2,0.008],[-40.6,-0.006],[-40.1,0.001],[-39.5,-0.003],[-38.7,-0.008],[-37.9,-0.028],[-37.1,-0.003],[-36.3,0.024],[-35.5,0.04],[-34.6,0.049],[-34.1,0.011],[-33.6,-0.038],[-32.7,-0.047],[-31.9,-0.031],[-31.1,-0.01],[-30.3,-0.001],[-29.5,0.002],[-28.7,0.001],[-27.9,-0.003],[-27.0,-0.01],[-26.2,0.011],[-25.7,0.024],[-25.1,0.018],[-24.3,-0.006],[-23.5,-0.042],[-22.7,-0.017],[-21.9,0.011],[-21.3,0.018],[-20.5,-0.01],[-19.7,-0.035],[-18.9,-0.04],[-18.1,-0.021],[-17.3,-0.003],[-16.4,0.015],[-15.6,0.026],[-14.8,0.027],[-14.0,0.004],[-13.5,-0.028],[-12.9,0.022],[-12.1,0.033],[-11.3,0.004],[-10.7,-0.019],[-9.9,0.022],[-9.1,0.026],[-8.3,0.033],[-7.7,0.024],[-7.2,0.011],[-6.7,-0.003],[-5.8,-0.012],[-5.0,-0.003],[-4.2,0.011],[-3.4,0.022],[-2.6,0.04],[-1.8,0.04],[-1.0,0.075],[-0.1,0.096],[0.4,0.102],[1.0,0.098],[1.5,0.075],[2.0,0.043],[2.6,0.029],[3.1,0.011],[3.7,0.04],[4.2,0.011],[5.0,0.018],[5.8,0.004],[6.7,-0.003],[7.2,0.008],[7.7,-0.021],[8.6,-0.01],[9.4,0.004],[10.2,-0.035],[11.0,-0.021],[11.8,0.029],[12.4,0.054],[13.2,0.011],[14.0,-0.01],[14.5,-0.038],[15.1,-0.028],[15.9,0.001],[16.7,-0.006],[17.5,-0.013],[18.3,-0.021],[19.2,-0.023],[20.0,0.004],[20.5,0.043],[21.1,0.004],[21.6,-0.013],[22.4,-0.003],[23.2,0.018],[23.8,-0.003],[24.3,0.015],[24.9,-0.013],[25.4,0.004],[25.9,0.026],[26.5,0.001],[27.0,0.008],[27.6,-0.006],[28.4,0.008],[29.2,0.001],[30.0,0.004],[30.8,-0.01],[31.7,-0.031],[32.5,0.029],[33.3,0.026],[34.1,-0.003],[34.9,-0.021],[35.7,-0.013],[36.5,-0.003],[37.4,0.022],[38.2,0.031],[39.0,-0.01],[39.8,-0.021],[40.6,-0.003],[41.4,0.018],[42.0,0.022],[42.5,-0.024],[43.3,-0.017],[44.2,0.004],[45.0,0.018],[45.5,0.015],[46.1,-0.003],[46.9,0.004],[47.7,0.006],[48.5,0.018],[49.0,0.022],[49.6,0.004],[50.1,-0.029],[50.7,-0.003],[51.5,0.011],[52.3,0.008],[53.1,-0.003],[53.7,-0.028],[54.2,0.004],[54.8,0.004],[55.6,0.015],[56.4,0.031],[56.9,-0.006],[57.5,-0.021],[58.0,0.015],[58.6,0.031],[59.1,0.01],[59.6,-0.031],[60.2,-0.003],[60.7,0.006],[61.3,-0.017],[62.1,-0.003],[62.9,0.001],[63.7,0.004],[64.5,0.022],[65.4,0.026],[66.2,0.043],[66.7,0.015],[67.5,-0.028],[68.3,-0.017],[69.2,-0.006],[69.7,0.022],[70.2,0.018],[70.8,-0.003],[71.2,0.001]];

const s21161_1667 = [[-67.1,-0.005],[-66.7,0.018],[-66.2,0.031],[-65.6,0.041],[-65.1,0.047],[-64.3,0.05],[-63.7,0.026],[-63.2,0.001],[-62.6,-0.017],[-61.8,-0.024],[-61.0,-0.029],[-59.9,-0.029],[-59.1,-0.013],[-58.3,0.002],[-57.5,0.002],[-56.7,-0.003],[-55.8,-0.01],[-55.0,-0.024],[-54.2,-0.021],[-53.4,-0.017],[-52.9,-0.024],[-52.0,-0.031],[-51.2,-0.038],[-50.4,-0.042],[-49.6,-0.031],[-48.8,-0.01],[-48.0,0.004],[-47.1,0.002],[-46.3,0.011],[-45.5,0.022],[-44.7,0.026],[-43.9,0.011],[-43.1,0.01],[-42.3,0.004],[-41.7,-0.017],[-41.2,-0.028],[-40.6,0.029],[-40.1,0.011],[-39.5,0.026],[-39.0,-0.003],[-38.5,-0.013],[-37.9,0.008],[-37.1,0.026],[-36.3,0.047],[-35.7,0.057],[-35.2,0.011],[-34.6,-0.006],[-34.1,-0.017],[-33.6,-0.003],[-32.7,0.008],[-31.9,0.002],[-31.1,-0.003],[-30.3,-0.01],[-29.8,0.011],[-29.2,0.031],[-28.7,0.026],[-27.9,0.022],[-27.0,0.026],[-26.2,0.018],[-25.4,0.01],[-24.6,0.001],[-23.8,-0.005],[-23.0,-0.012],[-22.1,-0.003],[-21.6,0.011],[-21.1,-0.003],[-20.5,-0.012],[-19.7,-0.008],[-18.9,-0.003],[-18.1,0.002],[-17.3,0.011],[-16.4,0.026],[-15.6,0.038],[-15.1,0.008],[-14.5,-0.01],[-14.0,0.015],[-13.5,-0.024],[-12.9,-0.021],[-12.4,0.036],[-11.8,0.026],[-11.3,0.008],[-10.7,-0.006],[-10.2,0.052],[-9.6,0.047],[-9.1,-0.003],[-8.6,-0.017],[-8.0,-0.035],[-7.5,-0.031],[-6.9,-0.049],[-6.4,-0.06],[-5.8,-0.063],[-5.3,-0.031],[-4.8,0.018],[-4.2,0.045],[-3.7,-0.006],[-3.1,-0.028],[-2.6,0.004],[-2.0,0.018],[-1.2,0.022],[-0.4,0.068],[0.1,0.114],[0.7,0.111],[1.2,0.082],[1.8,0.043],[2.3,0.026],[2.9,0.022],[3.4,0.015],[4.2,0.018],[5.0,0.02],[5.8,-0.01],[6.7,-0.024],[7.2,-0.031],[7.7,-0.006],[8.6,0.026],[9.4,0.027],[10.2,0.015],[10.7,-0.001],[11.3,0.026],[12.1,0.004],[12.9,-0.017],[13.7,-0.042],[14.3,0.001],[14.8,-0.01],[15.6,-0.013],[16.4,-0.017],[17.3,-0.024],[18.1,0.001],[18.9,0.01],[19.7,0.011],[20.5,0.01],[21.3,0.004],[22.1,-0.01],[22.9,0.015],[23.8,-0.017],[24.3,-0.045],[24.9,-0.01],[25.7,-0.024],[26.5,0.022],[27.0,0.047],[27.6,-0.017],[28.4,-0.042],[29.2,-0.017],[29.8,0.001],[30.3,-0.012],[31.1,0.036],[31.9,0.011],[32.7,-0.003],[33.6,0.008],[34.4,0.01],[35.2,0.004],[36.0,-0.003],[36.8,-0.035],[37.4,-0.038],[37.9,-0.006],[38.5,0.011],[39.0,0.004],[39.5,-0.001],[40.4,0.008],[41.2,-0.006],[42.0,-0.012],[42.8,-0.003],[43.6,0.001],[44.4,0.01],[45.2,0.015],[46.1,0.011],[46.9,0.001],[47.4,-0.021],[48.0,-0.003],[48.8,0.015],[49.6,0.034],[50.1,0.001],[50.7,-0.017],[51.5,-0.015],[52.3,-0.003],[53.1,0.022],[53.9,0.022],[54.5,-0.017],[55.0,-0.015],[55.6,0.008],[56.1,0.033],[56.7,0.011],[57.2,0.015],[57.7,-0.017],[58.3,-0.01],[58.8,0.008],[59.4,0.011],[59.9,0.018],[60.7,0.029],[61.3,0.008],[61.8,-0.01],[62.4,-0.013],[63.2,-0.003],[64.0,0.008],[64.8,0.018],[65.6,0.026],[66.2,0.015],[67.0,-0.003],[67.8,-0.015],[68.9,-0.017],[70.0,-0.019],[71.1,-0.024]];

const spectra = [
  [s20231_1665, s20231_1667], [s20568_1665, s20568_1667],
  [s21007_1665, s21007_1667], [s21025_1665, s21025_1667],
  [s21106_1665, s21106_1667], [s21161_1665, s21161_1667]
];

// axis settings per source
const xDomains = [[-33.42, 42.76], [-77.6, 74.7], [-74.4, 77.5], [-74.3, 77.9], [-74.4, 77.5], [-74.3, 77.9]];
const xSteps = [[20, 5], [50, 10], [50, 10], [50, 10], [50, 10], [50, 10]];
const yDomains = [
  [[-0.089, 0.179], [-0.089, 0.18]],
  [[-0.073, 0.25], [-0.073, 0.2525]],
  [[-0.0603, 0.1492], [-0.0604, 0.1496]],
  [[-0.064, 0.256], [-0.0632, 0.2586]],
  [[-0.385, 0.2009], [-0.503, 0.078]],
  [[-0.0746, 0.1232], [-0.0745, 0.124]]
];
const ySteps = [[0.1, 0.02], [0.1, 0.02], [0.05, 0.01], [0.1, 0.02], [0.2, 0.05], [0.05, 0.01]];

// layout
const cols = [[64.3, 436.7], [484.3, 857.3]];
const rowTops = [21.7, 441.7, 861.7];
const panelH = 186.1;
const ink = "#3a3a3a";

const svg = d3.select("#chart");

function stepTicks(dom, step) {
  const a = Math.ceil(dom[0] / step - 1e-6), b = Math.floor(dom[1] / step + 1e-6);
  return d3.range(a, b + 1).map(k => +(k * step).toFixed(4));
}
const fmt = v => v === 0 ? "0" : String(v).replace("-", "\u2212");

function axisPair(g, axisFn, scale, major, minor, len, pad, labels, tr) {
  const minorOnly = minor.filter(m => !major.some(M => Math.abs(M - m) < 1e-9));
  g.append("g").attr("transform", tr)
    .call(axisFn(scale).tickValues(minorOnly).tickSize(-len[1]).tickFormat(""))
    .call(a => a.select(".domain").remove());
  const ga = g.append("g").attr("transform", tr)
    .call(axisFn(scale).tickValues(major).tickSize(-len[0]).tickPadding(pad).tickFormat(labels ? fmt : ""))
    .call(a => a.select(".domain").remove());
  ga.selectAll("text").attr("class", "lbl").attr("font-size", 9.6).attr("fill", "#333");
}

sources.forEach((name, i) => {
  const c = i % 2, r = Math.floor(i / 2);
  const [x0, x1] = cols[c];
  const top = rowTops[r];

  const x = d3.scaleLinear().domain(xDomains[i]).range([x0, x1]);
  const xMaj = stepTicks(xDomains[i], xSteps[i][0]);
  const xMin = stepTicks(xDomains[i], xSteps[i][1]);

  svg.append("text").attr("class", "lbl")
    .attr("x", (x0 + x1) / 2).attr("y", top - 11.8)
    .attr("text-anchor", "middle").attr("font-size", 13.5)
    .text(name);

  [0, 1].forEach(k => {
    const yt = top + k * panelH, yb = yt + panelH;
    const y = d3.scaleLinear().domain(yDomains[i][k]).range([yb, yt]);
    const yMaj = stepTicks(yDomains[i][k], ySteps[i][0]);
    const yMin = stepTicks(yDomains[i][k], ySteps[i][1]);
    const g = svg.append("g").attr("color", "#444");

    axisPair(g, d3.axisBottom, x, xMaj, xMin, [5, 3], 6, k === 1, `translate(0,${yb})`);
    axisPair(g, d3.axisTop, x, xMaj, xMin, [5, 3], 3, false, `translate(0,${yt})`);
    axisPair(g, d3.axisLeft, y, yMaj, yMin, [5, 3], 4.5, true, `translate(${x0},0)`);
    axisPair(g, d3.axisRight, y, yMaj, yMin, [5, 3], 3, false, `translate(${x1},0)`);

    g.append("rect").attr("x", x0).attr("y", yt)
      .attr("width", x1 - x0).attr("height", panelH)
      .attr("fill", "none").attr("stroke", "#444").attr("stroke-width", 1.3);

    g.append("text").attr("class", "lbl")
      .attr("x", x1 - 22.5).attr("y", yt + 18.3)
      .attr("text-anchor", "end").attr("font-size", 13.4)
      .text(lines[k]);

    const cid = `clip${i}_${k}`;
    svg.append("clipPath").attr("id", cid).append("rect")
      .attr("x", x0).attr("y", yt).attr("width", x1 - x0).attr("height", panelH);

    g.append("path").datum(spectra[i][k])
      .attr("clip-path", `url(#${cid})`)
      .attr("fill", "none").attr("stroke", ink).attr("stroke-width", 1)
      .attr("stroke-linejoin", "round")
      .attr("d", d3.line().x(d => x(d[0])).y(d => y(d[1])));
  });
});

// shared axis titles
svg.append("text").attr("class", "big")
  .attr("transform", "translate(18.5,637) rotate(-90)")
  .attr("text-anchor", "middle").attr("font-size", 22.5)
  .text("Flux density, Jy");

const xt = svg.append("text").attr("class", "big")
  .attr("x", 380).attr("y", 1283).attr("font-size", 22);
xt.append("tspan").text("V");
xt.append("tspan").attr("font-size", 17).attr("dy", 3.5).attr("letter-spacing", 1.5).text("lsr");
xt.append("tspan").attr("dy", -3.5).attr("letter-spacing", 1).text(", km");
xt.append("tspan").attr("dx", 8).text("s");
xt.append("tspan").attr("font-size", 16).attr("dx", 2).attr("dy", -8).text("\u22121");
</script>
